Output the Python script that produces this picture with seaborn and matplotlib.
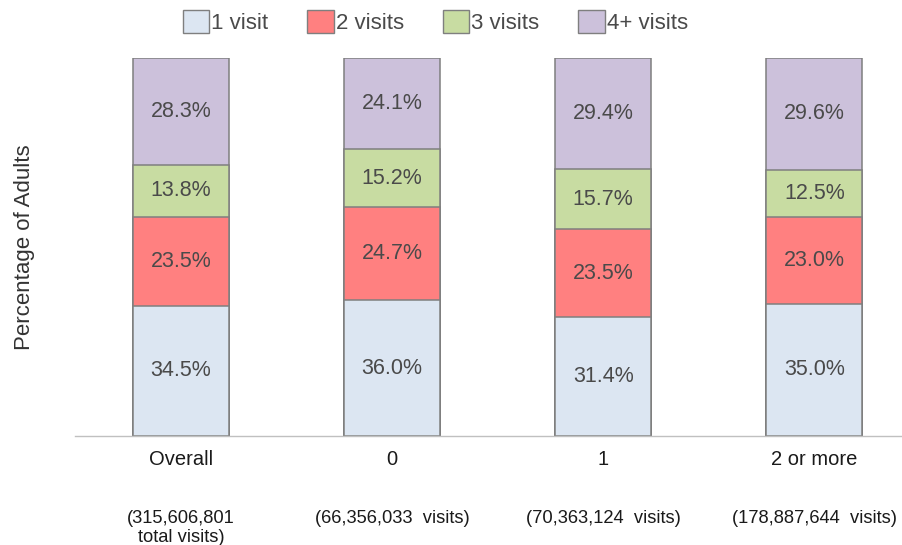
import pandas as pd
import matplotlib.pyplot as plt
import matplotlib.patches as mpatches
import seaborn as sns

groups = ["Overall", "0", "1", "2 or more"]
totals = ["(315,606,801\ntotal visits)", "(66,356,033  visits)",
          "(70,363,124  visits)", "(178,887,644  visits)"]
levels = ["1 visit", "2 visits", "3 visits", "4+ visits"]
one_visit = [34.5, 36.0, 31.4, 35.0]
two_visits = [23.5, 24.7, 23.5, 23.0]
three_visits = [13.8, 15.2, 15.7, 12.5]
four_plus = [28.3, 24.1, 29.4, 29.6]
colors = ["#dce6f2", "#ff8080", "#c8dca2", "#ccc1db"]

sns.set_theme(style="white")
plt.rcParams["font.family"] = ["Liberation Sans", "DejaVu Sans"]

series = [one_visit, two_visits, three_visits, four_plus]
rows = []
for lvl, vals in zip(levels, series):
    for g, v in zip(groups, vals):
        rows.append({"group": g, "level": lvl, "value": v})
df = pd.DataFrame(rows)
df["cum"] = df.groupby("group")["value"].cumsum()
df["mid"] = df["cum"] - df["value"] / 2

fig = plt.figure(figsize=(9.03, 5.45), dpi=100)
ax = fig.add_axes([0.0836, 0.2, 0.9164, 0.6936])

# draw tallest cumulative bars first so the shorter ones sit on top
for lvl, col in reversed(list(zip(levels, colors))):
    sub = df[df["level"] == lvl]
    sns.barplot(data=sub, x="group", y="cum", order=groups, color=col,
                width=0.455, edgecolor="#7f7f7f", linewidth=1.1,
                saturation=1, ax=ax)

for _, r in df.iterrows():
    ax.text(groups.index(r["group"]), r["mid"], f"{r['value']:.1f}%",
            ha="center", va="center", fontsize=15.5, color="#4a4a4a")

ax.set_xlim(-0.5, 3.42)
ax.set_ylim(0, 100.1)
ax.set_yticks([])
ax.set_xlabel("")
ax.set_ylabel("Percentage of Adults", fontsize=16, color="#333333", labelpad=29)
ax.tick_params(axis="x", length=0, pad=10, labelsize=14.5, labelcolor="#1a1a1a")
for s in ["top", "right", "left"]:
    ax.spines[s].set_visible(False)
ax.spines["bottom"].set_color("#c0c0c0")
ax.spines["bottom"].set_linewidth(1)

for i, t in enumerate(totals):
    ax.text(i, -0.195, t, transform=ax.get_xaxis_transform(), ha="center",
            va="top", fontsize=13.2, color="#1a1a1a", linespacing=1.15)

handles = [mpatches.Patch(facecolor=c, edgecolor="#7f7f7f", label=l)
           for l, c in zip(levels, colors)]
fig.legend(handles=handles, loc="center", bbox_to_anchor=(0.482, 0.96),
           ncol=4, frameon=False, fontsize=16, handlelength=1.2,
           handleheight=1.2, handletextpad=0.08, columnspacing=1.75,
           labelcolor="#4a4a4a")

fig.savefig("out.png", dpi=100)
